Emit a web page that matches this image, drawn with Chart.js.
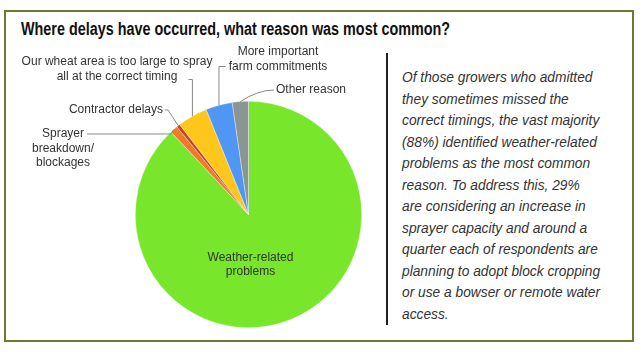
<!DOCTYPE html>
<html>
<head>
<meta charset="utf-8">
<script src="https://cdn.jsdelivr.net/npm/chart.js@4.4.0/dist/chart.umd.min.js"></script>
<style>
  body{margin:0;background:#fff;width:643px;height:352px;overflow:hidden;position:relative;}
  .box{position:absolute;left:4px;top:10px;width:626px;height:328px;border:2.5px solid #6b7a30;}
  .title{position:absolute;left:21px;top:19px;font:bold 18px "Liberation Sans",Arial,sans-serif;color:#111;white-space:nowrap;transform-origin:0 0;}
  .rule{position:absolute;left:386px;top:53px;width:1.5px;height:272px;background:#222;}
  .note{position:absolute;left:402px;top:66px;font:italic 15.5px/21.5px "Liberation Sans",Arial,sans-serif;color:#333;white-space:pre;transform-origin:0 0;}
  canvas{position:absolute;left:0;top:0;}
</style>
</head>
<body>
<div class="box"></div>
<div class="title" id="title">Where delays have occurred, what reason was most common?</div>
<div class="rule"></div>
<div class="note" id="note"></div>
<div style="position:absolute;left:0;top:0;width:643px;height:352px;"><canvas id="pie"></canvas></div>
<script>
// reasons, clockwise from 12 o'clock
const reasons = ['Weather-related problems','Sprayer breakdown/blockages','Contractor delays',
  'Our wheat area is too large to spray all at the correct timing','More important farm commitments','Other reason'];
const shares = [88, 1.1, 0.5, 4.3, 3.8, 2.3];
const sliceColours = ['#78e62a','#f2792c','#c9421c','#ffc61c','#4f96f5','#8b9591'];

const labelLines = [
  ['Weather-related','problems'],
  ['Sprayer','breakdown/','blockages'],
  ['Contractor delays'],
  ['Our wheat area is too large to spray','all at the correct timing'],
  ['More important','farm commitments'],
  ['Other reason']
];

const noteLines = [
  'Of those growers who admitted',
  'they sometimes missed the',
  'correct timings, the vast majority',
  '(88%) identified weather-related',
  'problems as the most common',
  'reason. To address this, 29%',
  'are considering an increase in',
  'sprayer capacity and around a',
  'quarter each of respondents are',
  'planning to adopt block cropping',
  'or use a bowser or remote water',
  'access.'
];

// squeeze the regular fonts to look like the condensed print face
const title = document.getElementById('title');
title.style.transform = 'scaleX(' + (429 / title.offsetWidth) + ')';
const note = document.getElementById('note');
note.textContent = noteLines[9];
const noteScale = 198 / note.offsetWidth;
note.textContent = noteLines.join('\n');
note.style.transform = 'scaleX(' + noteScale + ')';

// where each callout text sits: x, y of first line, alignment
const callouts = [
  null,
  {x:63, y:134, align:'center'},
  {x:163, y:110, align:'right'},
  {x:117, y:62, align:'center'},
  {x:278, y:52, align:'center'},
  {x:276, y:90, align:'left'}
];

const leaderLabels = {
  id:'leaderLabels',
  afterDraw(chart){
    const ctx = chart.ctx;
    const arcs = chart.getDatasetMeta(0).data;
    ctx.save();
    ctx.font = '12px "Liberation Sans", Arial, sans-serif';
    ctx.fillStyle = '#333';
    ctx.textBaseline = 'middle';
    const gap = 14.5;

    // label inside the big slice
    const a0 = arcs[0].getProps(['x','y','outerRadius']);
    ctx.textAlign = 'center';
    labelLines[0].forEach((t,i)=>ctx.fillText(t, a0.x+2, a0.y + a0.outerRadius*0.38 + i*gap));

    ctx.strokeStyle = '#8a8a8a';
    ctx.lineWidth = 1;
    for(let k=1;k<arcs.length;k++){
      const c = callouts[k];
      const p = arcs[k].getProps(['x','y','startAngle','endAngle','outerRadius']);
      const mid = (p.startAngle+p.endAngle)/2;
      const ax = p.x + Math.cos(mid)*p.outerRadius;
      const ay = p.y + Math.sin(mid)*p.outerRadius;
      ctx.textAlign = c.align;
      let widest = 0;
      labelLines[k].forEach((t,i)=>{
        ctx.fillText(t, c.x, c.y + i*gap);
        widest = Math.max(widest, ctx.measureText(t).width);
      });
      ctx.beginPath();
      if(k===1){
        const w = ctx.measureText(labelLines[k][0]).width;
        ctx.moveTo(c.x + w/2 + 3, c.y);
        ctx.lineTo(ax-3, c.y);
        ctx.lineTo(ax, ay);
      } else if(k===2){
        ctx.moveTo(c.x + 2, c.y);
        ctx.lineTo(c.x + 5, c.y);
        ctx.lineTo(ax, ay);
      } else if(k===3){
        const ly = c.y + gap + 3;
        ctx.moveTo(ax-4, ly);
        ctx.lineTo(ax, ly);
        ctx.lineTo(ax, ay);
      } else if(k===4){
        const ly = c.y + gap;
        ctx.moveTo(c.x - widest/2 - 3, ly);
        ctx.lineTo(ax, ly);
        ctx.lineTo(ax, ay);
      } else {
        ctx.moveTo(c.x - 2, c.y);
        ctx.quadraticCurveTo(c.x - 18, c.y, ax, ay);
      }
      ctx.stroke();
    }
    ctx.restore();
  }
};

new Chart(document.getElementById('pie').getContext('2d'), {
  type:'pie',
  data:{
    labels:reasons,
    datasets:[{
      data:shares,
      backgroundColor:sliceColours,
      borderColor:'rgba(255,255,255,0.6)',
      borderWidth:0.6
    }]
  },
  options:{
    responsive:true,
    maintainAspectRatio:false,
    animation:false,
    layout:{padding:{left:135, right:281, top:101, bottom:24}},
    plugins:{legend:{display:false}, tooltip:{enabled:false}}
  },
  plugins:[leaderLabels]
});
</script>
</body>
</html>
